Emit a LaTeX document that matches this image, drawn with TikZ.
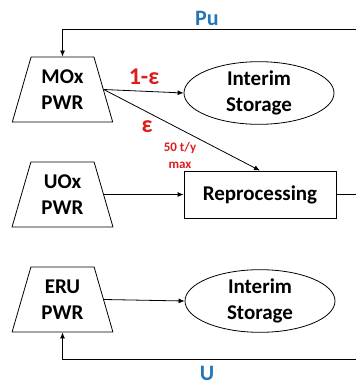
\documentclass[tikz,border=0pt]{standalone}
\usepackage{fontspec}
\setmainfont{Carlito}
\usetikzlibrary{shapes.geometric,arrows.meta}
\definecolor{flowred}{RGB}{222,28,28}
\definecolor{flowblue}{RGB}{36,118,186}
\begin{document}
\begin{tikzpicture}[x=1pt,y=-1pt,
  every node/.style={font=\bfseries\fontsize{21}{26}\selectfont, align=center, inner sep=0pt},
  reactor/.style={draw, trapezium, trapezium stretches=true,
    trapezium left angle=72.5, trapezium right angle=72.5,
    minimum width=101pt, minimum height=65pt, line width=0.8pt},
  store/.style={draw, ellipse, minimum width=150pt, minimum height=57pt, line width=0.8pt},
  plant/.style={draw, rectangle, minimum width=152pt, minimum height=47pt, line width=0.8pt},
  flow/.style={line width=0.8pt, -{Latex[length=6pt,width=5pt]}},
  plain/.style={line width=0.8pt},
  redlab/.style={text=flowred, font=\bfseries\fontsize{24}{26}\selectfont},
  bluelab/.style={text=flowblue, font=\bfseries\fontsize{22}{26}\selectfont},
  smalllab/.style={text=flowred, font=\bfseries\fontsize{13}{17}\selectfont}]
  \useasboundingbox (0,0) rectangle (356,385);

  % reactors
  \node[reactor] (mox) at (62.5,89.5) {MOx\\PWR};
  \node[reactor] (uox) at (62.5,194.5) {UOx\\PWR};
  \node[reactor] (eru) at (62.5,299.5) {ERU\\PWR};

  % back end facilities
  \node[store] (st1) at (259,93) {Interim\\Storage};
  \node[plant] (rep) at (260,194.5) {Reprocessing};
  \node[store, minimum height=53pt] (st2) at (260,301) {Interim\\Storage};

  % loose ends of the recycle loops
  \coordinate (puR) at (356,29);
  \coordinate (repR) at (356,194.5);
  \coordinate (uR) at (356,359);

  % spent fuel flows
  \draw[flow] (mox.east) -- (st1.west);
  \draw[flow] (mox.east) -- (rep.north);
  \draw[flow] (uox.east) -- (rep.west);
  \draw[flow] (eru.east) -- (st2.west);
  \draw[plain] (rep.east) -- (repR);

  % recycled Pu and U
  \draw[flow] (puR) -- (mox.north |- puR) -- (mox.north);
  \draw[flow] (uR) -- (eru.south |- uR) -- (eru.south);

  % labels
  \node[bluelab] (pu) at (207,18) {Pu};
  \node[bluelab] (u) at (207,373) {U};
  \node[redlab] (frac) at (144,77) {1-ε};
  \node[redlab] (eps) at (147,127) {ε};
  \node[smalllab] (cap) at (180,155) {50 t/y\\max};
\end{tikzpicture}
\end{document}
